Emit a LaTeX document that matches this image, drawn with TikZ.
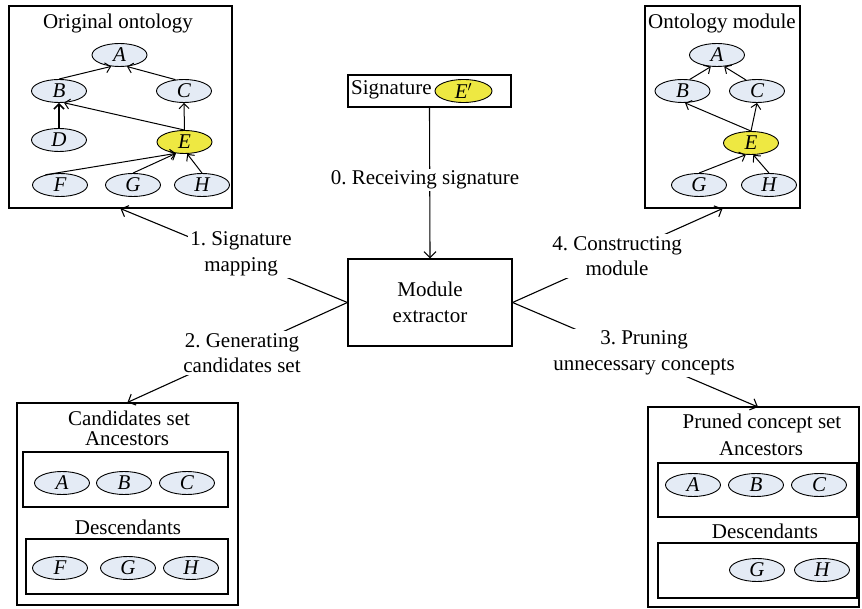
\documentclass[tikz,border=0pt]{standalone}
\usepackage{fontspec}
\setmainfont{Liberation Serif}
\usetikzlibrary{shapes.geometric,arrows.meta}
\definecolor{cfill}{RGB}{228,235,245}
\definecolor{efill}{RGB}{238,232,66}
\frenchspacing
\begin{document}
\begin{tikzpicture}[x=1pt,y=-1pt,
  font=\fontsize{21}{25.5}\selectfont,
  box/.style={draw, line width=1.2pt, inner sep=0pt},
  con/.style={ellipse, draw, line width=0.9pt, fill=cfill, minimum width=55pt,
    minimum height=23pt, inner sep=0pt, font=\fontsize{21}{25}\selectfont\itshape},
  yel/.style={con, fill=efill},
  edge/.style={line width=1pt, -{Straight Barb[length=5pt,width=10pt]}},
  arr/.style={line width=1.1pt, -{Straight Barb[length=6pt,width=12pt]}},
  lbl/.style={align=center, fill=white, inner sep=2pt},
  ttl/.style={inner sep=0pt}]
\useasboundingbox (0,0) rectangle (862,609);

% ---------- Original ontology ----------
\node[box, minimum width=223pt, minimum height=202pt] (orig) at (120.5,107) {};
\node[ttl] (origt) at (118,23) {Original ontology};
\node[con] (oA) at (119.5,55) {A};
\node[con] (oB) at (59,91) {B};
\node[con] (oC) at (184,91) {C};
\node[con] (oD) at (59,140) {D};
\node[yel] (oE) at (184.5,142) {E};
\node[con] (oF) at (60,185) {F};
\node[con] (oG) at (133,185) {G};
\node[con] (oH) at (202,185) {H};
\draw[edge] (oB.north) -- (oA.-126);
\draw[edge] (oC.127) -- (oA.-57);
\draw[edge, line width=1.6pt] (oD.north) -- (oB.south);
\draw[edge] (oE.north) -- (oB.-67);
\draw[edge] (oE.north) -- (oC.south);
\draw[edge] (oF.145) -- (oE.-127);
\draw[edge] (oG.north) -- (oE.-127);
\draw[edge] (oH.north) -- (oE.-77);

% ---------- Ontology module ----------
\node[box, minimum width=155pt, minimum height=202pt] (mod) at (722.5,107) {};
\node[ttl] (modt) at (722,23) {Ontology module};
\node[con] (mA) at (717,55) {A};
\node[con] (mB) at (682.5,91) {B};
\node[con] (mC) at (757,91) {C};
\node[yel] (mE) at (751,143) {E};
\node[con] (mG) at (699,185) {G};
\node[con] (mH) at (769,185) {H};
\draw[edge] (mB.58) -- (mA.-118);
\draw[edge] (mC.135) -- (mA.-58);
\draw[edge] (mE.north) -- (mB.-78);
\draw[edge] (mE.north) -- (mC.south);
\draw[edge] (mG.north) -- (mE.-114);
\draw[edge] (mH.north) -- (mE.-79);

% ---------- Signature ----------
\node[box, minimum width=163pt, minimum height=32pt] (sig) at (429.5,91) {};
\node[ttl, anchor=west] (sigt) at (351,90) {Signature};
\node[yel, minimum width=57pt] (sigE) at (463.5,91) {E$'$};

% ---------- Module extractor ----------
\node[box, minimum width=164pt, minimum height=87pt, align=center,
  font=\fontsize{21}{26}\selectfont] (ext) at (430,302.5) {Module\\extractor};

% ---------- Candidates set ----------
\node[box, minimum width=221pt, minimum height=202pt] (cand) at (127.5,504) {};
\node[ttl] (candt) at (129,418) {Candidates set};
\node[ttl] (canda) at (127,439) {Ancestors};
\node[box, minimum width=205pt, minimum height=55pt] (cin1) at (125.5,479.5) {};
\node[con] (cA) at (62,483) {A};
\node[con] (cB) at (124,483) {B};
\node[con] (cC) at (187,483) {C};
\node[ttl] (candd) at (128,527) {Descendants};
\node[box, minimum width=202pt, minimum height=55pt] (cin2) at (127,566.5) {};
\node[con] (cF) at (60,568) {F};
\node[con] (cG) at (128,568) {G};
\node[con] (cH) at (191,568) {H};

% ---------- Pruned concept set ----------
\node[box, minimum width=211pt, minimum height=200pt] (prn) at (753.5,507) {};
\node[ttl] (prnt) at (762,423) {Pruned concept set};
\node[ttl] (prna) at (761,449) {Ancestors};
\node[box, minimum width=199pt, minimum height=54pt] (pin1) at (757.5,490) {};
\node[con] (pA) at (693,485) {A};
\node[con] (pB) at (756,485) {B};
\node[con] (pC) at (819,485) {C};
\node[ttl] (prnd) at (765,531) {Descendants};
\node[box, minimum width=199pt, minimum height=55pt] (pin2) at (757.5,570.5) {};
\node[con] (pG) at (757,570) {G};
\node[con] (pH) at (822,570) {H};
\coordinate (ptip) at (758,407);

% ---------- Connectors ----------
\draw[arr] (sig.south) -- (ext.north);
\draw[arr] (ext.west) -- (orig.south);
\draw[arr] (ext.west) -- (cand.north);
\draw[arr] (ext.east) -- (mod.south);
\draw[arr] (ext.east) -- (ptip);

\node[lbl] (l0) at (425,180) {0. Receiving signature};
\node[lbl] (l1) at (241,254) {1. Signature\\mapping};
\node[lbl] (l2) at (242,353) {2. Generating\\candidates set};
\node[lbl] (l4) at (617,256) {4. Constructing\\module};
\node[lbl] (l3) at (644,353) {3. Pruning\\unnecessary concepts};
\end{tikzpicture}
\end{document}
